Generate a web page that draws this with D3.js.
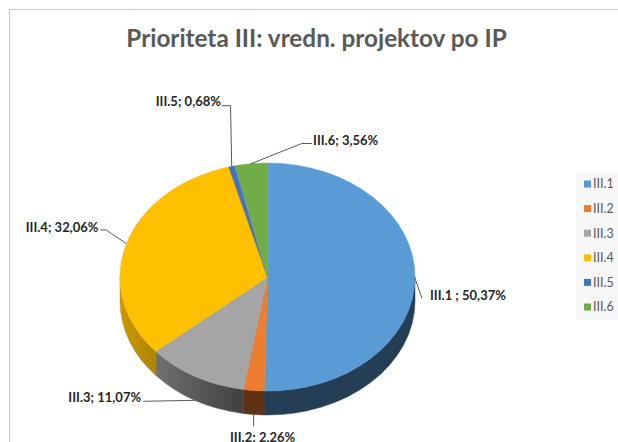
<!DOCTYPE html>
<html>
<head>
<meta charset="utf-8">
<script src="https://cdn.jsdelivr.net/npm/d3@7"></script>
<style>
  html, body { margin: 0; padding: 0; background: #fff; overflow: hidden; }
  svg { display: block; }
</style>
</head>
<body>
<div id="chart"></div>
<script>
// Chart data
const categories = ["III.1", "III.2", "III.3", "III.4", "III.5", "III.6"];
const shares = [50.37, 2.26, 11.07, 32.06, 0.68, 3.56];
const labelTexts = ["III.1 ; 50,37%", "III.2; 2,26%", "III.3; 11,07%", "III.4; 32,06%", "III.5; 0,68%", "III.6; 3,56%"];
const colors = ["#5b9bd5", "#ed7d31", "#a5a5a5", "#ffc000", "#4472c4", "#70ad47"];
const title = "Prioriteta III: vredn. projektov po IP";

// Page + pie geometry
const width = 618;
const height = 442;
const cx = 267.5, cy = 277;   // centre of top face
const rx = 147.5, ry = 114;   // ellipse radii of the tilted pie
const depth = 24;             // thickness of the pie

// Leader line layout for each label (relative to the slice anchor)
// ex/ey: elbow, hx: short horizontal hook, tx/ty: text offset from hook end
const labelLayout = [
  { ex: 7, ey: 20, hx: 0, tx: 8, ty: -3, anchor: "start" },
  { ex: 0, ey: 12, hx: 0, tx: 9, ty: 10.5, anchor: "middle" },
  { ex: -52, ey: 1, hx: 0, tx: -2, ty: -4, anchor: "end" },
  { ex: -20.5, ey: -13.7, hx: -5.5, tx: -2, ty: -2, anchor: "end" },
  { ex: -1.2, ey: -60.7, hx: -8.6, tx: -1, ty: -4.7, anchor: "end" },
  { ex: 50.7, ey: -20.2, hx: 10.3, tx: 1, ty: -3.5, anchor: "start" }
];

const data = categories.map((c, i) => ({ name: c, value: shares[i], color: colors[i], label: labelTexts[i], layout: labelLayout[i] }));

const svg = d3.select("#chart")
  .append("svg")
  .attr("width", width)
  .attr("height", height)
  .style("font-family", "Lato, 'Open Sans', sans-serif");

// chart area border (runs off the right/bottom edge like the original)
svg.append("rect")
  .attr("x", 9.5)
  .attr("y", 9.5)
  .attr("width", 700)
  .attr("height", 500)
  .attr("fill", "#fff")
  .attr("stroke", "#c9c9c9")
  .attr("stroke-width", 1);

// Title
svg.append("text")
  .attr("x", 316.5)
  .attr("y", 47)
  .attr("text-anchor", "middle")
  .style("font-size", "24.3px")
  .style("font-weight", "bold")
  .style("fill", "#595959")
  .text(title);

// pie layout, clockwise from 12 o'clock
const pie = d3.pie().sort(null).value((d) => d.value).startAngle(0).endAngle(2 * Math.PI);
const arcs = pie(data);

// point on the ellipse rim for angle a (clockwise from top)
const rim = (a, dy = 0) => [cx + rx * Math.sin(a), cy - ry * Math.cos(a) + dy];

// side shading: lit from the left, dark on the right
const shade = (a) => {
  const t = Math.max(0, Math.min(1, (-Math.sin(a) - 0.2) / 0.8));
  return 0.4 + 0.4 * t;
};

const defs = svg.append("defs");
arcs.forEach((d, i) => {
  const grad = defs.append("linearGradient")
    .attr("id", "side-" + i)
    .attr("gradientUnits", "userSpaceOnUse")
    .attr("x1", cx + rx).attr("y1", 0)
    .attr("x2", cx - rx).attr("y2", 0);
  const base = d3.rgb(d.data.color);
  d3.range(90, 271, 10).forEach((deg) => {
    const a = deg * Math.PI / 180;
    const f = shade(a);
    grad.append("stop")
      .attr("offset", (1 - Math.sin(a)) / 2)
      .attr("stop-color", d3.rgb(base.r * f, base.g * f, base.b * f).formatHex());
  });
});

// Sides (front half only)
const sideGroup = svg.append("g");
arcs.forEach((d, i) => {
  const s = Math.max(d.startAngle, Math.PI / 2);
  const e = Math.min(d.endAngle, 3 * Math.PI / 2);
  if (e <= s) return;
  const p0 = rim(s), p1 = rim(e), q1 = rim(e, depth), q0 = rim(s, depth);
  const path = `M${p0}A${rx},${ry} 0 0 1 ${p1}L${q1}A${rx},${ry} 0 0 0 ${q0}Z`;
  sideGroup.append("path")
    .attr("d", path)
    .attr("fill", `url(#side-${i})`)
    .attr("stroke", `url(#side-${i})`)
    .attr("stroke-width", 0.5);
});

// Top faces
const topGroup = svg.append("g");
arcs.forEach((d) => {
  const p0 = rim(d.startAngle), p1 = rim(d.endAngle);
  const large = d.endAngle - d.startAngle > Math.PI ? 1 : 0;
  topGroup.append("path")
    .attr("d", `M${cx},${cy}L${p0}A${rx},${ry} 0 ${large} 1 ${p1}Z`)
    .attr("fill", d.data.color)
    .attr("stroke", d.data.color)
    .attr("stroke-width", 0.5);
});

// Data labels with leader lines
const labelGroup = svg.append("g");
arcs.forEach((d) => {
  const mid = (d.startAngle + d.endAngle) / 2;
  const lower = Math.cos(mid) < -0.5;
  const [ax, ay] = rim(mid, lower ? depth : 0);
  const L = d.data.layout;
  const ex = ax + L.ex, ey = ay + L.ey;
  const hx = ex + L.hx;

  labelGroup.append("path")
    .attr("d", `M${ax},${ay}L${ex},${ey}L${hx},${ey}`)
    .attr("fill", "none")
    .attr("stroke", "#595959")
    .attr("stroke-width", 1);

  labelGroup.append("text")
    .attr("x", hx + L.tx)
    .attr("y", ey + L.ty)
    .attr("dy", "0.35em")
    .attr("text-anchor", L.anchor)
    .style("font-size", "13px")
    .style("font-weight", "bold")
    .style("fill", "#262626")
    .text(d.data.label);
});

// Legend
const legend = svg.append("g");
legend.append("rect")
  .attr("x", 576)
  .attr("y", 172)
  .attr("width", 60)
  .attr("height", 148)
  .attr("fill", "#f7f7f7");

const legendY = d3.scalePoint().domain(categories).range([184, 307]);
const items = legend.selectAll("g.item")
  .data(data)
  .enter()
  .append("g")
  .attr("class", "item")
  .attr("transform", (d) => `translate(584,${legendY(d.name)})`);

items.append("rect")
  .attr("x", 0)
  .attr("y", -3.5)
  .attr("width", 7)
  .attr("height", 7)
  .attr("fill", (d) => d.color);

items.append("text")
  .attr("x", 9)
  .attr("y", 0)
  .attr("dy", "0.35em")
  .style("font-size", "12.5px")
  .style("fill", "#595959")
  .text((d) => d.name);
</script>
</body>
</html>
